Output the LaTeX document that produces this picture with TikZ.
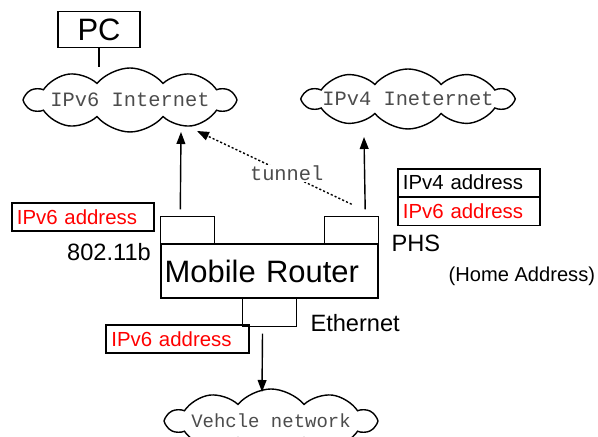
\documentclass[tikz,border=0pt]{standalone}
\usepackage{fontspec}
\setmainfont{Liberation Sans}
\setmonofont{Liberation Mono}
\usetikzlibrary{shapes.symbols,positioning,arrows.meta}

\begin{document}
\begin{tikzpicture}[
	line width=1pt,
	netCloud/.style={cloud, draw, cloud puffs=10, cloud puff arc=100, cloud ignores aspect, inner sep=0pt, text width=3.8cm, text height=0.35cm, text depth=0.15cm, label={[cloudText]center:#1}},
	cloudText/.style={inner sep=0pt, font=\ttfamily\fontsize{14.5}{16}\selectfont, text=black!70},
	portBox/.style={draw, rectangle, minimum width=1.35cm, minimum height=0.675cm, inner sep=0pt, outer sep=0pt},
	addrBox/.style={draw, rectangle, minimum width=3.55cm, minimum height=0.7cm, inner xsep=3.5pt, inner ysep=0pt, text width=3.55cm-7pt, align=left, font=\fontsize{14.5}{16}\selectfont},
	plainLabel/.style={inner sep=0pt, font=\fontsize{16.8}{18}\selectfont},
	upArrow/.style={-{Triangle[length=3mm,width=2.2mm]}}
]

	\useasboundingbox (0,0) rectangle (14.95,10.925);
	\clip (0,0) rectangle (14.95,10.925);

	% clouds
	\node[netCloud={IPv6 Internet}, minimum height=1.6cm] (cloudVsix) at (3.25,8.425) {};
	\node[netCloud={IPv4 Ineternet}, minimum height=1.5cm] (cloudVfour) at (10.2,8.45) {};
	\node[netCloud={\fontsize{13.5}{15}\selectfont Vehcle network}, minimum height=1.6cm] (cloudCar) at (6.775,0.4) {};

	\node[draw, minimum width=2.05cm, minimum height=0.9cm, inner sep=0pt, font=\fontsize{22}{24}\selectfont] (pcBox) at (2.475,10.18) {PC};
	\draw (pcBox.south) -- (pcBox.south |- cloudVsix.north);

	% router and its interfaces
	\node[draw, minimum width=5.425cm, minimum height=1.35cm, inner xsep=2.6pt, text width=5.425cm-5.2pt, align=left, font=\fontsize{22}{24}\selectfont] (router) at (6.7375,4.15) {Mobile Router};
	\node[portBox, above right=0pt and 0pt of router.north west] (lport) {};
	\node[portBox, above left=0pt and 0pt of router.north east] (rport) {};
	\node[portBox, minimum height=0.7cm, below=0pt of router.south] (bport) {};

	\coordinate (vsixIn) at (4.525,7.625);
	\coordinate (vfourIn) at (9.1,7.5);
	\coordinate (tunnelEnd) at (4.925,7.65);
	\coordinate (carIn) at (6.55,1.125);

	\draw[upArrow] ([xshift=-0.175cm, yshift=0.175cm]lport.north) -- (vsixIn);
	\draw[upArrow] ([xshift=0.3375cm, yshift=0.175cm]rport.north) -- (vfourIn);
	\draw[upArrow] ([xshift=-0.175cm, yshift=-0.175cm]bport.south) -- (carIn);
	\draw[upArrow, dash pattern=on 1.5pt off 1.5pt] ([yshift=0.3cm]rport.north) -- (tunnelEnd)
		node[cloudText, pos=0.42, fill=white, inner sep=1pt] (tunnelLabel) {tunnel};

	% addresses
	\node[addrBox, text=red] (addrLeft) at (2.075,5.5) {IPv6 address};
	\node[addrBox, minimum height=0.6875cm] (vfourAddr) at (11.725,6.36) {IPv4 address};
	\node[addrBox, minimum height=0.6875cm, text=red, below=0pt of vfourAddr] (vsixAddr) {IPv6 address};
	\node[addrBox, minimum width=3.575cm, text=red] (addrBottom) at (4.4375,2.45) {IPv6 address};

	% interface names
	\node[plainLabel, anchor=base east] (wifiLabel) at (3.7875,4.4175) {802.11b};
	\node[plainLabel, anchor=base west] (phsLabel) at (9.77,4.6325) {PHS};
	\node[plainLabel, anchor=base west] (ethLabel) at (7.745,2.625) {Ethernet};
	\node[inner sep=0pt, anchor=base west, font=\fontsize{14.3}{16}\selectfont] (homeLabel) at (11.2,3.875) {(Home Address)};

\end{tikzpicture}
\end{document}
